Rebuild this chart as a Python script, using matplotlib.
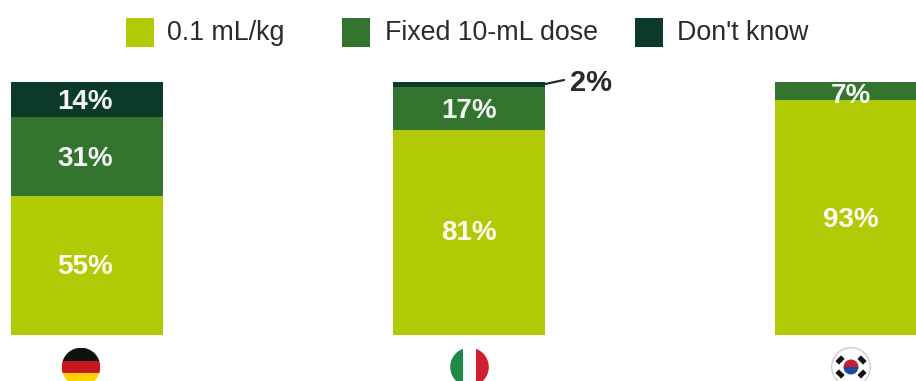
import numpy as np
import matplotlib
matplotlib.use('Agg')
import matplotlib.pyplot as plt
from matplotlib.patches import Circle, Rectangle

plt.rcParams['font.family'] = ['Liberation Sans', 'DejaVu Sans']

#Datos
countries = ['Germany', 'Italy', 'South Korea']
dose_per_kg = [55, 81, 93]
fixed_dose = [31, 17, 7]
dont_know = [14, 2, 0]
legend_labels = ['0.1 mL/kg', 'Fixed 10-mL dose', "Don't know"]

#Colores
LIME = '#b0cb05'
GREEN = '#33742f'
DARK = '#0b3a2b'
TEXT = '#2a2a2a'

W, H = 916, 381
fig = plt.figure(figsize=(W/100, H/100), dpi=100)

#Ejes de las barras, 82 a 335 px desde arriba
ax = fig.add_axes([0, (H-335)/H, 1, (335-82)/H])
spacing = 382
ax.set_xlim(-87/spacing, (W-87)/spacing)
ax.set_ylim(0, 100)
ax.axis('off')

#Ajustes finos de etiquetas en pixeles: (barra, valor) -> dy, hacia abajo
nudge_y = {(1, 81): 2, (2, 93): -1, (2, 7): -3.5}
nudge_x = [-2, 0, -0.5]

x = np.arange(len(countries))
width = 152/spacing
bottom = np.zeros(len(x))
for vals, col in zip([dose_per_kg, fixed_dose, dont_know], [LIME, GREEN, DARK]):
    ax.bar(x, vals, width, bottom=bottom, color=col, linewidth=0)
    for xi, v, b in zip(x, vals, bottom):
        if v >= 5:
            ax.annotate(f'{v}%', xy=(xi, b + v/2 - 0.8),
                        xytext=(nudge_x[xi]*0.72, nudge_y.get((xi, v), 0)*0.72),
                        textcoords='offset points', color='white', fontsize=20,
                        fontweight='bold', ha='center', va='center', alpha=0.95)
    bottom += np.array(vals)

#Etiqueta de 2% con linea guia
edge = x[1] + width/2
ax.annotate(f'{dont_know[1]}%', xy=(edge, 99.6), xytext=(25*0.72, 0),
            textcoords='offset points', color=TEXT, fontsize=21, fontweight='bold',
            va='center', ha='left', annotation_clip=False)
ax.annotate('', xy=(edge, 99.2), xytext=(19*0.72, 4*0.72), textcoords='offset points',
            annotation_clip=False,
            arrowprops=dict(arrowstyle='-', color=TEXT, lw=1.6, shrinkA=0, shrinkB=0))

#Capa en pixeles para leyenda y banderas
top = fig.add_axes([0, 0, 1, 1])
top.set_xlim(0, W)
top.set_ylim(H, 0)
top.axis('off')
top.patch.set_alpha(0)

for lx, tx, col, lab in zip([126, 342, 635], [167, 385, 677], [LIME, GREEN, DARK], legend_labels):
    top.add_patch(Rectangle((lx, 18), 28, 29, color=col, lw=0))
    top.text(tx, 32.5, lab, color=TEXT, fontsize=19.3, va='center', ha='left')

#Banderas
r = 19.3
cy = 367

def disc(cx):
    return Circle((cx, cy), r, transform=top.transData)

def stripes(cx, boxes):
    clip = disc(cx)
    for (x0, y0, w, h, col) in boxes:
        p = Rectangle((x0, y0), w, h, color=col, lw=0)
        top.add_patch(p)
        p.set_clip_path(clip)

cx = 81
stripes(cx, [(cx-r, cy-r, 2*r, 13, '#111111'),
             (cx-r, cy-r+13, 2*r, 12.5, '#c8161d'),
             (cx-r, cy-r+25.5, 2*r, 13.5, '#fdd200')])

cx = 469.5
stripes(cx, [(cx-r, cy-r, 13, 2*r, '#1f8a45'),
             (cx-r+13, cy-r, 12.5, 2*r, 'white'),
             (cx-r+25.5, cy-r, 13.5, 2*r, '#cf2030')])

cx = 851
top.add_patch(Circle((cx, cy), r, facecolor='white', edgecolor='#cccccc', lw=1))
stripes(cx, [(cx-8, cy-8, 16, 8, '#c8202f'), (cx-8, cy, 16, 8, '#1f4a9a')])
clip = Circle((cx, cy), 7.5, transform=top.transData)
for c in top.patches[-2:]:
    c.set_clip_path(clip)
#Trigramas, eje y invertido
for sx, sy, ang in [(-11, -7, 45), (11, -7, -45), (-11, 7, -45), (11, 7, 45)]:
    top.add_patch(Rectangle((cx+sx-4, cy+sy-2.5), 8, 5, color='#111111', lw=0,
                            rotation_point='center', angle=-ang))

fig.savefig('out.png', dpi=100)
